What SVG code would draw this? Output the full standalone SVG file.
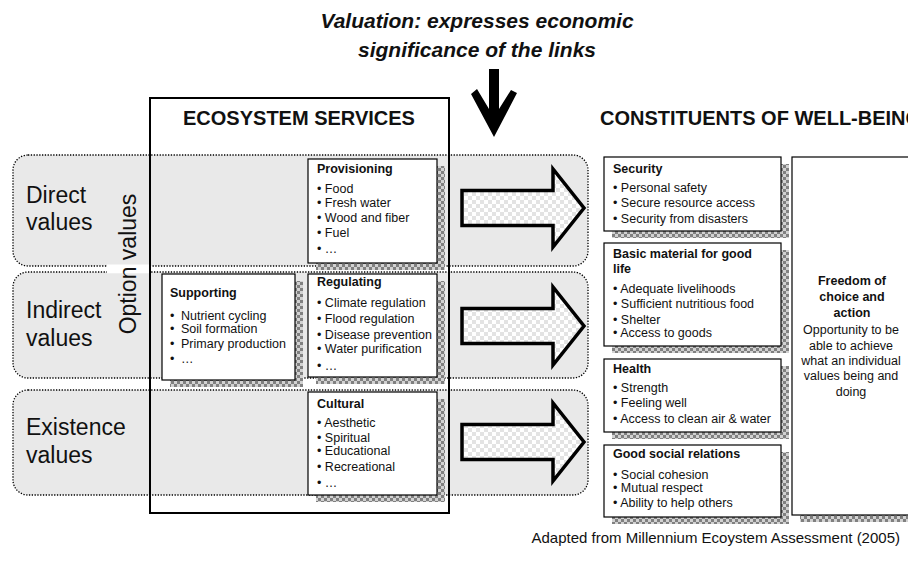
<svg xmlns="http://www.w3.org/2000/svg" width="908" height="562" viewBox="0 0 908 562">
  <defs>
    <pattern id="shadow" width="6" height="6" patternUnits="userSpaceOnUse">
      <rect width="6" height="6" fill="#d2d2d2"/>
      <rect width="3" height="3" fill="#808080"/>
      <rect x="3" y="3" width="3" height="3" fill="#808080"/>
    </pattern>
    <pattern id="checker" width="8" height="8" patternUnits="userSpaceOnUse">
      <rect width="8" height="8" fill="#ffffff"/>
      <rect width="4" height="4" fill="#e3e3e3"/>
      <rect x="4" y="4" width="4" height="4" fill="#e3e3e3"/>
    </pattern>
  </defs>
  <style>
    text { font-family: "Liberation Sans", Arial, sans-serif; fill: #111; }
    .band { fill: #e9e9e9; stroke: #000; stroke-width: 1.3; stroke-dasharray: 1.3 1.5; }
    .lbl { font-size: 23px; }
    .hdr { font-size: 20px; font-weight: bold; }
    .ttl { font-size: 21px; font-weight: bold; font-style: italic; }
    .box { fill: #fff; stroke: #000; stroke-width: 1.2; }
    .shd { fill: url(#shadow); }
    .bh { font-size: 12.5px; font-weight: bold; }
    .it { font-size: 12.5px; }
    .ctr { text-anchor: middle; }
    .blk { fill: url(#checker); stroke: #000; stroke-width: 3.5; stroke-linejoin: miter; }
  </style>

  <!-- Title -->
  <g id="valuation-title">
    <text class="ttl ctr" x="477" y="28">Valuation: expresses economic</text>
    <text class="ttl ctr" x="477" y="57">significance of the links</text>
  </g>

  <!-- Value bands -->
  <g id="direct-values">
    <rect class="band" x="13" y="155" width="575" height="111" rx="15"/>
    <text class="lbl" x="26" y="203">Direct</text>
    <text class="lbl" x="26" y="230">values</text>
  </g>
  <g id="indirect-values">
    <rect class="band" x="13" y="272" width="575" height="106" rx="15"/>
    <text class="lbl" x="26" y="318">Indirect</text>
    <text class="lbl" x="26" y="346">values</text>
  </g>
  <g id="existence-values">
    <rect class="band" x="13" y="390" width="575" height="105" rx="15"/>
    <text class="lbl" x="26" y="435">Existence</text>
    <text class="lbl" x="26" y="463">values</text>
  </g>
  <g id="option-values">
    <rect x="107" y="264.5" width="42" height="8.8" fill="#fff"/>
    <text class="lbl ctr" transform="translate(136,264) rotate(-90)" x="0" y="0">Option values</text>
  </g>

  <!-- Ecosystem services frame -->
  <g id="ecosystem-services">
    <rect x="150" y="98" width="299" height="415" fill="none" stroke="#000" stroke-width="2"/>
    <text class="hdr ctr" x="299" y="125">ECOSYSTEM SERVICES</text>
  </g>

  <g id="provisioning">
    <rect class="shd" x="316" y="166" width="129" height="104"/>
    <rect class="box" x="308" y="159" width="129" height="104"/>
    <text class="bh" x="317" y="173">Provisioning</text>
    <text class="it" x="317" y="193">• Food</text>
    <text class="it" x="317" y="207">• Fresh water</text>
    <text class="it" x="317" y="222">• Wood and fiber</text>
    <text class="it" x="317" y="237">• Fuel</text>
    <text class="it" x="317" y="253">• …</text>
  </g>

  <g id="supporting">
    <rect class="shd" x="170" y="281" width="133" height="106"/>
    <rect class="box" x="162" y="274" width="133" height="106"/>
    <text class="bh" x="170" y="297">Supporting</text>
    <text class="it" x="170" y="320">•</text>
    <text class="it" x="181" y="320">Nutrient cycling</text>
    <text class="it" x="170" y="333">•</text>
    <text class="it" x="181" y="333">Soil formation</text>
    <text class="it" x="170" y="348">•</text>
    <text class="it" x="181" y="348">Primary production</text>
    <text class="it" x="170" y="363">•</text>
    <text class="it" x="181" y="363">…</text>
  </g>

  <g id="regulating">
    <rect class="shd" x="316" y="281" width="129" height="103"/>
    <rect class="box" x="308" y="274" width="129" height="103"/>
    <text class="bh" x="317" y="286">Regulating</text>
    <text class="it" x="317" y="307">• Climate regulation</text>
    <text class="it" x="317" y="323">• Flood regulation</text>
    <text class="it" x="317" y="339">• Disease prevention</text>
    <text class="it" x="317" y="353">• Water purification</text>
    <text class="it" x="317" y="370">• …</text>
  </g>

  <g id="cultural">
    <rect class="shd" x="316" y="399" width="129" height="103"/>
    <rect class="box" x="308" y="392" width="129" height="103"/>
    <text class="bh" x="317" y="408">Cultural</text>
    <text class="it" x="317" y="427">• Aesthetic</text>
    <text class="it" x="317" y="442">• Spiritual</text>
    <text class="it" x="317" y="455">• Educational</text>
    <text class="it" x="317" y="471">• Recreational</text>
    <text class="it" x="317" y="487">• …</text>
  </g>

  <!-- Constituents of well-being -->
  <g id="constituents">
    <text class="hdr" x="600" y="125">CONSTITUENTS OF WELL-BEING</text>
  </g>

  <g id="security">
    <rect class="shd" x="612" y="164" width="177" height="74"/>
    <rect class="box" x="604" y="157" width="177" height="74"/>
    <text class="bh" x="613" y="173">Security</text>
    <text class="it" x="613" y="192">• Personal safety</text>
    <text class="it" x="613" y="207">• Secure resource access</text>
    <text class="it" x="613" y="223">• Security from disasters</text>
  </g>

  <g id="basic-material">
    <rect class="shd" x="612" y="250" width="177" height="103"/>
    <rect class="box" x="604" y="243" width="177" height="103"/>
    <text class="bh" x="613" y="258">Basic material for good</text>
    <text class="bh" x="613" y="273">life</text>
    <text class="it" x="613" y="293">• Adequate livelihoods</text>
    <text class="it" x="613" y="308">• Sufficient nutritious food</text>
    <text class="it" x="613" y="324">• Shelter</text>
    <text class="it" x="613" y="337">• Access to goods</text>
  </g>

  <g id="health">
    <rect class="shd" x="612" y="366" width="177" height="73"/>
    <rect class="box" x="604" y="359" width="177" height="73"/>
    <text class="bh" x="613" y="373">Health</text>
    <text class="it" x="613" y="392">• Strength</text>
    <text class="it" x="613" y="407">• Feeling well</text>
    <text class="it" x="613" y="423">• Access to clean air &amp; water</text>
  </g>

  <g id="social-relations">
    <rect class="shd" x="612" y="452" width="177" height="72"/>
    <rect class="box" x="604" y="445" width="177" height="72"/>
    <text class="bh" x="613" y="458">Good social relations</text>
    <text class="it" x="613" y="479">• Social cohesion</text>
    <text class="it" x="613" y="492">• Mutual respect</text>
    <text class="it" x="613" y="507">• Ability to help others</text>
  </g>

  <g id="freedom">
    <rect class="shd" x="800" y="164" width="140" height="358"/>
    <rect class="box" x="792" y="157" width="140" height="358"/>
    <text class="bh ctr" x="852" y="285">Freedom of</text>
    <text class="bh ctr" x="852" y="301">choice and</text>
    <text class="bh ctr" x="852" y="317">action</text>
    <text class="it ctr" x="851" y="334">Opportunity to be</text>
    <text class="it ctr" x="851" y="350">able to achieve</text>
    <text class="it ctr" x="851" y="365">what an individual</text>
    <text class="it ctr" x="851" y="380">values being and</text>
    <text class="it ctr" x="851" y="396">doing</text>
  </g>

  <!-- Connectors -->
  <g id="connectors">
    <path id="valuation-arrow" d="M489,69 L499,69 L499,109 L511,90 L517,93 L494,137 L471,94 L477,89 L489,109 Z" fill="#000"/>
    <path class="blk" d="M462,190.5 L553,190.5 L553,169 L584,208 L553,247 L553,225.5 L462,225.5 Z"/>
    <path class="blk" d="M462,308.5 L553,308.5 L553,287 L584,326 L553,365 L553,343.5 L462,343.5 Z"/>
    <path class="blk" d="M462,424.5 L553,424.5 L553,403 L584,442 L553,481 L553,459.5 L462,459.5 Z"/>
  </g>

  <g id="source-note">
    <text x="900" y="543" style="font-size:15px; text-anchor:end">Adapted from Millennium Ecoystem Assessment (2005)</text>
  </g>
</svg>
